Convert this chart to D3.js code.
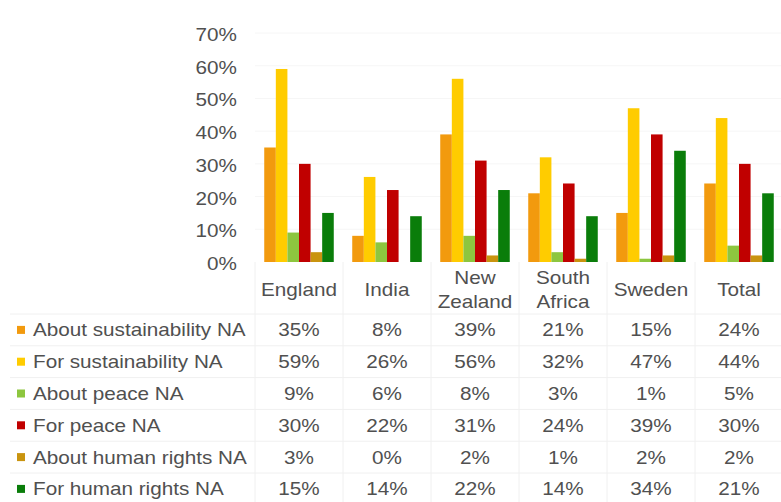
<!DOCTYPE html>
<html>
<head>
<meta charset="utf-8">
<script src="https://cdn.jsdelivr.net/npm/d3@7"></script>
<style>
  html, body { margin: 0; padding: 0; background: #fff; }
  svg { display: block; }
  text { font-family: "Liberation Sans", Arial, sans-serif; fill: #505050; }
</style>
</head>
<body>
<svg id="chart" width="781" height="502"></svg>
<script>
// ---- data ----
const categories = ["England", "India", "New Zealand", "South Africa", "Sweden", "Total"];
const categoryLines = [["England"], ["India"], ["New", "Zealand"], ["South", "Africa"], ["Sweden"], ["Total"]];
const seriesNames = ["About sustainability NA", "For sustainability NA", "About peace NA", "For peace NA", "About human rights NA", "For human rights NA"];
const aboutSustainability = [35, 8, 39, 21, 15, 24];
const forSustainability   = [59, 26, 56, 32, 47, 44];
const aboutPeace          = [9, 6, 8, 3, 1, 5];
const forPeace            = [30, 22, 31, 24, 39, 30];
const aboutHumanRights    = [3, 0, 2, 1, 2, 2];
const forHumanRights      = [15, 14, 22, 14, 34, 21];
const seriesColors = ["#F29A0E", "#FFCC00", "#8DC63F", "#C00000", "#C9940F", "#0A7D0A"];
const yTicks = [0, 10, 20, 30, 40, 50, 60, 70];

const seriesValues = [aboutSustainability, forSustainability, aboutPeace, forPeace, aboutHumanRights, forHumanRights];

// ---- layout ----
const svg = d3.select("#chart");
const plotLeft = 255, plotRight = 783, plotTop = 33, plotBottom = 262;
const rowH = 31.8, tableTop = 314;
const SX = 1.15; // horizontal text stretch

const x0 = d3.scaleBand().domain(categories).range([plotLeft, plotRight]).paddingInner(0.21).paddingOuter(0.105);
const x1 = d3.scaleBand().domain(seriesNames).range([0, x0.bandwidth()]).padding(0);
const y = d3.scaleLinear().domain([0, 70]).range([plotBottom, plotTop]);
const color = d3.scaleOrdinal().domain(seriesNames).range(seriesColors);
const step = x0.step();
const colLeft = c => x0(c) - x0.paddingOuter() * step;

// gridlines (very faint)
svg.append("g").selectAll("line").data(yTicks.slice(1)).join("line")
  .attr("x1", plotLeft).attr("x2", 781)
  .attr("y1", d => y(d)).attr("y2", d => y(d))
  .attr("stroke", "#f6f6f6").attr("stroke-width", 1);

// y axis
const yAxis = svg.append("g").attr("transform", `translate(237,0)`)
  .call(d3.axisLeft(y).tickValues(yTicks).tickFormat(d => d + "%").tickSize(0).tickPadding(0));
yAxis.select(".domain").remove();
yAxis.selectAll("text")
  .attr("font-size", 18).attr("dy", "0.42em").attr("x", 0)
  .attr("transform", `scale(${SX},1)`)
  .style("font-family", '"Liberation Sans", Arial, sans-serif').attr("fill", "#505050");

// bars
const groups = svg.append("g").selectAll("g").data(categories).join("g")
  .attr("transform", c => `translate(${x0(c)},0)`);
groups.selectAll("rect")
  .data((c, i) => seriesNames.map((s, j) => ({ s, v: seriesValues[j][i] })))
  .join("rect")
  .attr("x", d => x1(d.s))
  .attr("width", x1.bandwidth())
  .attr("y", d => y(d.v))
  .attr("height", d => y(0) - y(d.v))
  .attr("fill", d => color(d.s));

// table lines (faint)
const tbl = svg.append("g");
const rowYs = d3.range(seriesNames.length + 1).map(i => tableTop + i * rowH);
tbl.selectAll("line.h").data(rowYs).join("line").attr("class", "h")
  .attr("x1", 10).attr("x2", 781)
  .attr("y1", d => d).attr("y2", d => d)
  .attr("stroke", "#f0f0f0");
const vxs = categories.map(colLeft);
tbl.selectAll("line.v").data(vxs).join("line").attr("class", "v")
  .attr("x1", d => d).attr("x2", d => d)
  .attr("y1", plotBottom).attr("y2", 502)
  .attr("stroke", "#f0f0f0");

// category labels
categories.forEach((c, i) => {
  const lines = categoryLines[i];
  const cx = x0(c) + x0.bandwidth() / 2;
  const cy = 290;
  lines.forEach((ln, k) => {
    const yy = cy + (k - (lines.length - 1) / 2) * 24;
    svg.append("text")
      .attr("transform", `translate(${cx},${yy}) scale(${SX},1)`)
      .attr("text-anchor", "middle").attr("dy", "0.36em")
      .attr("font-size", 18).text(ln);
  });
});

// legend rows + values
seriesNames.forEach((s, j) => {
  const cy = tableTop + j * rowH + rowH / 2;
  svg.append("rect").attr("x", 17).attr("y", cy - 4).attr("width", 8).attr("height", 8)
    .attr("fill", color(s));
  svg.append("text")
    .attr("transform", `translate(33,${cy}) scale(${SX},1)`)
    .attr("dy", "0.36em").attr("font-size", 18).text(s);
  categories.forEach((c, i) => {
    svg.append("text")
      .attr("transform", `translate(${x0(c) + x0.bandwidth() / 2},${cy}) scale(${SX},1)`)
      .attr("text-anchor", "middle").attr("dy", "0.36em").attr("font-size", 18)
      .text(seriesValues[j][i] + "%");
  });
});
</script>
</body>
</html>
